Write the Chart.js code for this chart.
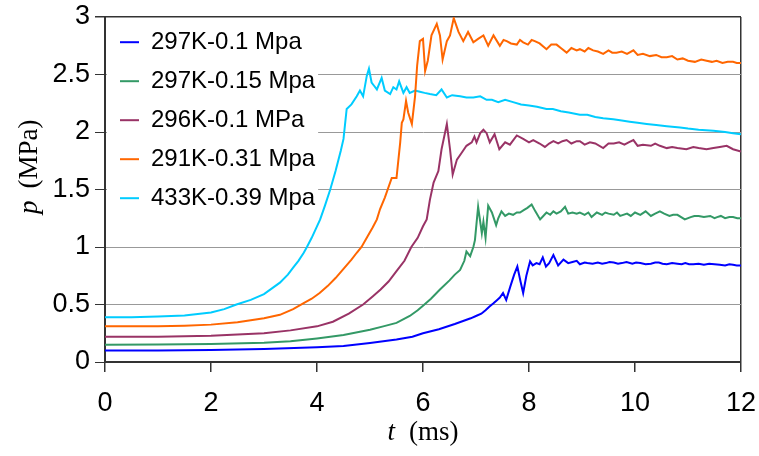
<!DOCTYPE html>
<html>
<head>
<meta charset="utf-8">
<script src="https://cdn.jsdelivr.net/npm/chart.js@4.4.0/dist/chart.umd.min.js"></script>
<style>
    html, body { margin: 0; padding: 0; background: #fff; }
    #wrap { width: 759px; height: 456px; }
</style>
</head>
<body>
<div id="wrap"><canvas id="pressureChart" width="759" height="456"></canvas></div>
<script>
// Series labels (legend order)
const seriesLabels = ['297K-0.1 Mpa', '297K-0.15 Mpa', '296K-0.1 MPa', '291K-0.31 Mpa', '433K-0.39 Mpa'];

// Axis ticks
const xTicks = [0, 2, 4, 6, 8, 10, 12];
const yTicks = [0, 0.5, 1, 1.5, 2, 2.5, 3];

// 297K-0.1 Mpa : time (ms) / pressure (MPa)
const t1 = [0, 1, 2, 3, 4, 4.5, 5, 5.5, 5.8, 6, 6.3, 6.6, 6.9, 7, 7.1, 7.18, 7.25, 7.33, 7.4, 7.45, 7.51, 7.57, 7.65, 7.72, 7.78, 7.84, 7.89, 7.95, 8.02, 8.07, 8.14, 8.2, 8.26, 8.32, 8.38, 8.46, 8.55, 8.65, 8.74, 8.82, 8.9, 8.96, 9.05, 9.1, 9.2, 9.3, 9.38, 9.45, 9.52, 9.6, 9.68, 9.75, 9.84, 9.95, 10.02, 10.1, 10.2, 10.3, 10.38, 10.45, 10.52, 10.6, 10.7, 10.8, 10.88, 10.95, 11.02, 11.1, 11.2, 11.3, 11.4, 11.5, 11.6, 11.7, 11.78, 11.85, 11.92, 12];
const p1 = [0.10, 0.10, 0.105, 0.113, 0.128, 0.14, 0.165, 0.195, 0.22, 0.25, 0.285, 0.33, 0.38, 0.40, 0.42, 0.45, 0.48, 0.51, 0.54, 0.56, 0.60, 0.54, 0.66, 0.76, 0.83, 0.70, 0.60, 0.75, 0.875, 0.84, 0.86, 0.85, 0.91, 0.83, 0.86, 0.93, 0.84, 0.89, 0.86, 0.87, 0.88, 0.85, 0.865, 0.86, 0.855, 0.865, 0.855, 0.86, 0.87, 0.865, 0.855, 0.86, 0.87, 0.855, 0.865, 0.86, 0.85, 0.855, 0.865, 0.865, 0.855, 0.85, 0.86, 0.855, 0.85, 0.86, 0.85, 0.85, 0.855, 0.845, 0.855, 0.85, 0.845, 0.84, 0.85, 0.845, 0.84, 0.84];

// 297K-0.15 Mpa
const t2 = [0, 1, 2, 3, 3.5, 4, 4.5, 5, 5.25, 5.5, 5.75, 5.9, 6, 6.15, 6.32, 6.5, 6.6, 6.7, 6.78, 6.82, 6.89, 6.95, 6.98, 7.04, 7.11, 7.14, 7.18, 7.23, 7.3, 7.38, 7.42, 7.48, 7.55, 7.62, 7.7, 7.77, 7.83, 7.9, 7.97, 8.05, 8.12, 8.21, 8.27, 8.33, 8.4, 8.46, 8.52, 8.6, 8.68, 8.74, 8.82, 8.9, 8.96, 9.05, 9.12, 9.18, 9.28, 9.38, 9.44, 9.5, 9.6, 9.66, 9.72, 9.85, 9.92, 10, 10.1, 10.2, 10.3, 10.38, 10.47, 10.55, 10.65, 10.72, 10.8, 10.94, 11.05, 11.12, 11.2, 11.3, 11.42, 11.5, 11.55, 11.62, 11.7, 11.78, 11.85, 11.93, 12];
const p2 = [0.15, 0.152, 0.157, 0.167, 0.18, 0.205, 0.235, 0.28, 0.31, 0.34, 0.40, 0.45, 0.49, 0.55, 0.63, 0.71, 0.76, 0.80, 0.88, 0.96, 0.92, 1.0, 1.06, 1.35, 1.12, 1.22, 1.08, 1.36, 1.30, 1.19, 1.25, 1.31, 1.27, 1.29, 1.28, 1.30, 1.30, 1.32, 1.34, 1.37, 1.31, 1.24, 1.27, 1.30, 1.28, 1.31, 1.29, 1.31, 1.35, 1.29, 1.30, 1.29, 1.30, 1.28, 1.30, 1.26, 1.30, 1.28, 1.30, 1.29, 1.28, 1.30, 1.27, 1.29, 1.27, 1.30, 1.28, 1.31, 1.27, 1.29, 1.31, 1.29, 1.27, 1.28, 1.28, 1.24, 1.26, 1.27, 1.27, 1.26, 1.27, 1.25, 1.26, 1.27, 1.25, 1.26, 1.26, 1.25, 1.25];

// 296K-0.1 MPa
const t3 = [0, 1, 2, 2.5, 3, 3.5, 4, 4.3, 4.6, 4.87, 5.05, 5.2, 5.35, 5.5, 5.65, 5.78, 5.9, 6, 6.07, 6.13, 6.2, 6.29, 6.35, 6.45, 6.51, 6.56, 6.64, 6.73, 6.82, 6.92, 6.97, 7.01, 7.08, 7.14, 7.2, 7.26, 7.35, 7.44, 7.55, 7.64, 7.77, 7.89, 8, 8.08, 8.2, 8.3, 8.38, 8.46, 8.55, 8.63, 8.71, 8.8, 8.9, 8.96, 9.05, 9.15, 9.25, 9.4, 9.5, 9.6, 9.7, 9.8, 9.88, 9.97, 10.05, 10.15, 10.3, 10.38, 10.47, 10.6, 10.7, 10.8, 10.97, 11.1, 11.2, 11.35, 11.48, 11.6, 11.73, 11.85, 12];
const p3 = [0.22, 0.22, 0.228, 0.24, 0.25, 0.275, 0.31, 0.35, 0.42, 0.50, 0.57, 0.63, 0.70, 0.79, 0.88, 1.0, 1.08, 1.18, 1.24, 1.41, 1.56, 1.66, 1.85, 2.07, 1.85, 1.63, 1.76, 1.82, 1.88, 1.91, 1.96, 1.91, 1.99, 2.02, 1.99, 1.91, 1.98, 1.85, 1.91, 1.89, 1.97, 1.94, 1.91, 1.93, 1.90, 1.87, 1.90, 1.92, 1.90, 1.92, 1.93, 1.90, 1.92, 1.92, 1.89, 1.91, 1.90, 1.86, 1.90, 1.90, 1.91, 1.89, 1.91, 1.93, 1.88, 1.89, 1.88, 1.90, 1.88, 1.86, 1.87, 1.86, 1.85, 1.87, 1.86, 1.85, 1.86, 1.87, 1.88, 1.85, 1.83];

// 291K-0.31 Mpa
const t4 = [0, 1, 1.5, 2, 2.5, 3, 3.3, 3.55, 3.74, 3.9, 4.05, 4.2, 4.35, 4.5, 4.65, 4.75, 4.84, 4.95, 5.05, 5.13, 5.19, 5.28, 5.41, 5.5, 5.57, 5.6, 5.63, 5.68, 5.72, 5.79, 5.85, 5.89, 5.94, 6, 6.04, 6.09, 6.16, 6.26, 6.32, 6.37, 6.42, 6.45, 6.51, 6.58, 6.67, 6.76, 6.85, 6.95, 7.04, 7.14, 7.23, 7.33, 7.45, 7.52, 7.58, 7.66, 7.77, 7.83, 7.89, 7.98, 8.05, 8.11, 8.2, 8.33, 8.42, 8.52, 8.6, 8.71, 8.8, 8.9, 8.96, 9.05, 9.12, 9.21, 9.3, 9.4, 9.5, 9.57, 9.65, 9.75, 9.85, 9.97, 10.05, 10.15, 10.28, 10.4, 10.5, 10.6, 10.7, 10.8, 10.9, 11, 11.13, 11.25, 11.35, 11.45, 11.54, 11.65, 11.75, 11.85, 11.92, 12];
const p4 = [0.31, 0.31, 0.315, 0.325, 0.345, 0.38, 0.41, 0.46, 0.51, 0.55, 0.60, 0.66, 0.73, 0.81, 0.89, 0.95, 1.0, 1.09, 1.17, 1.24, 1.33, 1.43, 1.60, 1.60, 1.91, 2.08, 2.11, 2.27, 2.17, 2.07, 2.31, 2.58, 2.79, 2.81, 2.53, 2.62, 2.84, 2.94, 2.84, 2.63, 2.73, 2.79, 2.84, 2.99, 2.87, 2.79, 2.87, 2.78, 2.81, 2.84, 2.75, 2.84, 2.75, 2.80, 2.79, 2.77, 2.76, 2.80, 2.78, 2.76, 2.80, 2.79, 2.77, 2.72, 2.76, 2.76, 2.73, 2.69, 2.73, 2.71, 2.72, 2.70, 2.73, 2.71, 2.70, 2.68, 2.71, 2.69, 2.69, 2.70, 2.68, 2.71, 2.67, 2.68, 2.66, 2.67, 2.65, 2.65, 2.66, 2.63, 2.64, 2.62, 2.61, 2.63, 2.62, 2.61, 2.62, 2.60, 2.61, 2.61, 2.60, 2.60];

// 433K-0.39 Mpa
const t5 = [0, 0.5, 1, 1.5, 2, 2.25, 2.48, 2.75, 3, 3.15, 3.3, 3.45, 3.55, 3.65, 3.75, 3.81, 3.9, 3.98, 4.06, 4.15, 4.25, 4.35, 4.45, 4.5, 4.53, 4.56, 4.65, 4.75, 4.81, 4.87, 4.94, 4.98, 5.03, 5.08, 5.13, 5.22, 5.28, 5.38, 5.44, 5.5, 5.55, 5.63, 5.69, 5.75, 5.85, 5.94, 6.03, 6.13, 6.25, 6.35, 6.45, 6.55, 6.7, 6.82, 6.95, 7.08, 7.2, 7.3, 7.42, 7.55, 7.7, 7.85, 8, 8.15, 8.33, 8.45, 8.6, 8.75, 8.96, 9.1, 9.25, 9.4, 9.59, 9.75, 9.9, 10.05, 10.22, 10.4, 10.6, 10.85, 11, 11.2, 11.48, 11.7, 11.85, 12];
const p5 = [0.39, 0.39, 0.395, 0.405, 0.43, 0.46, 0.50, 0.54, 0.59, 0.64, 0.69, 0.76, 0.82, 0.88, 0.95, 1.0, 1.08, 1.16, 1.24, 1.36, 1.50, 1.66, 1.84, 1.94, 2.07, 2.20, 2.24, 2.31, 2.36, 2.31, 2.49, 2.55, 2.43, 2.40, 2.37, 2.47, 2.36, 2.33, 2.39, 2.37, 2.44, 2.34, 2.39, 2.34, 2.36, 2.35, 2.34, 2.33, 2.32, 2.37, 2.30, 2.32, 2.31, 2.30, 2.30, 2.31, 2.28, 2.28, 2.26, 2.28, 2.26, 2.24, 2.23, 2.22, 2.20, 2.20, 2.18, 2.17, 2.15, 2.15, 2.13, 2.12, 2.11, 2.10, 2.09, 2.08, 2.07, 2.06, 2.05, 2.04, 2.03, 2.02, 2.01, 2.00, 1.99, 1.98];

const seriesColors = ['#0000ff', '#339966', '#993366', '#ff6600', '#00ccff'];

function toPoints(ts, ps) {
    return ts.map((t, i) => ({ x: t, y: ps[i] }));
}

const allSeries = [[t1, p1], [t2, p2], [t3, p3], [t4, p4], [t5, p5]];

// White backing behind the legend so grid lines do not show through it
const legendBackground = {
    id: 'legendBackground',
    beforeDatasetsDraw(chart) {
        const lg = chart.legend;
        if (!lg || !lg.legendHitBoxes.length) return;
        const boxes = lg.legendHitBoxes;
        const right = Math.max(...boxes.map(b => b.left + b.width)) + 3;
        const bottom = Math.max(...boxes.map(b => b.top + b.height)) + 14;
        const { ctx, chartArea } = chart;
        ctx.save();
        ctx.fillStyle = '#ffffff';
        ctx.fillRect(chartArea.left + 2, chartArea.top + 1, right - chartArea.left - 2, bottom - chartArea.top - 1);
        ctx.restore();
        lg.draw();
    }
};

// Axis titles with an italic symbol followed by the unit
const axisTitles = {
    id: 'axisTitles',
    afterDraw(chart) {
        const { ctx, chartArea } = chart;
        const italic = 'italic 27px "Liberation Serif", "Times New Roman", serif';
        const normal = '27px "Liberation Serif", "Times New Roman", serif';
        ctx.save();
        ctx.fillStyle = '#000';
        ctx.textBaseline = 'alphabetic';
        ctx.textAlign = 'left';

        // x title: t  (ms)
        ctx.font = italic;
        const tw = ctx.measureText('t').width;
        ctx.font = normal;
        const uw = ctx.measureText('(ms)').width;
        const gap = 14;
        const cx = (chartArea.left + chartArea.right) / 2;
        const x0 = cx - (tw + gap + uw) / 2;
        ctx.font = italic;
        ctx.fillText('t', x0, 440);
        ctx.font = normal;
        ctx.fillText('(ms)', x0 + tw + gap, 440);

        // y title: p  (MPa)
        ctx.translate(37, 214);
        ctx.rotate(-Math.PI / 2);
        ctx.font = italic;
        const pw = ctx.measureText('p').width;
        ctx.fillText('p', 0, 0);
        ctx.font = normal;
        ctx.fillText('(MPa)', pw + 12, 0);
        ctx.restore();
    }
};

const ctx = document.getElementById('pressureChart');

new Chart(ctx, {
    type: 'line',
    data: {
        datasets: allSeries.map(([ts, ps], i) => ({
            label: seriesLabels[i],
            data: toPoints(ts, ps),
            borderColor: seriesColors[i],
            backgroundColor: seriesColors[i],
            borderWidth: 2,
            pointRadius: 0,
            tension: 0,
            fill: false
        }))
    },
    options: {
        responsive: false,
        devicePixelRatio: 1,
        animation: false,
        layout: {
            padding: { top: 17, right: 18, left: 0, bottom: 0 }
        },
        plugins: {
            tooltip: { enabled: false },
            legend: {
                position: 'chartArea',
                align: 'start',
                title: {
                    display: true,
                    text: '',
                    font: { size: 1 },
                    padding: { top: 14, bottom: 0 }
                },
                labels: {
                    font: { family: '"Liberation Sans", Arial, sans-serif', size: 24 },
                    color: '#000',
                    boxWidth: 19,
                    boxHeight: 2,
                    padding: 15,
                    generateLabels(chart) {
                        return Chart.defaults.plugins.legend.labels.generateLabels(chart).map(item => {
                            item.fillStyle = item.strokeStyle;
                            item.lineWidth = 0;
                            return item;
                        });
                    }
                }
            }
        },
        scales: {
            x: {
                type: 'linear',
                min: 0,
                max: 12,
                afterFit(scale) {
                    scale.height = 94;
                    scale.paddingLeft = 0;
                    scale.paddingRight = 0;
                },
                afterBuildTicks(scale) { scale.ticks = xTicks.map(v => ({ value: v })); },
                ticks: {
                    color: '#000',
                    padding: 15,
                    maxRotation: 0,
                    callback: v => String(v),
                    font: { family: '"Liberation Sans", Arial, sans-serif', size: 27 }
                },
                grid: {
                    color: c => (c.tick && c.tick.value === 12 ? '#333' : 'rgba(0,0,0,0)'),
                    lineWidth: 1.5,
                    tickColor: '#333',
                    tickLength: 10
                },
                border: { display: true, color: '#333', width: 2 }
            },
            y: {
                type: 'linear',
                min: 0,
                max: 3,
                afterFit(scale) {
                    scale.width = 105;
                    scale.paddingTop = 0;
                    scale.paddingBottom = 0;
                },
                afterBuildTicks(scale) { scale.ticks = yTicks.map(v => ({ value: v })); },
                ticks: {
                    color: '#000',
                    padding: 5,
                    callback: v => String(v),
                    font: { family: '"Liberation Sans", Arial, sans-serif', size: 27 }
                },
                grid: {
                    color: c => (c.tick && c.tick.value === 3 ? '#333' : '#999'),
                    lineWidth: c => (c.tick && c.tick.value === 3 ? 1.5 : 1),
                    tickColor: '#333',
                    tickLength: 10
                },
                border: { display: true, color: '#333', width: 2 }
            }
        }
    },
    plugins: [legendBackground, axisTitles]
});
</script>
</body>
</html>
